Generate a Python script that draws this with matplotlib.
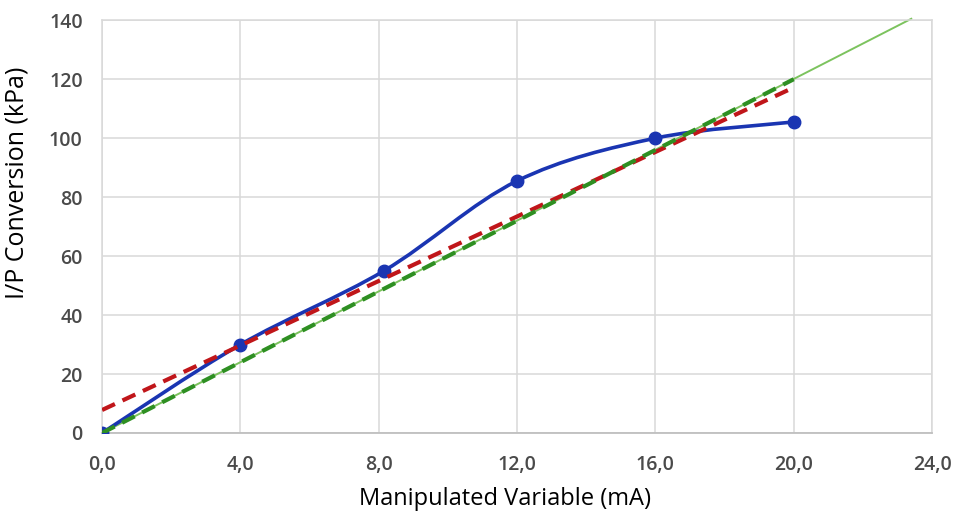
import matplotlib.pyplot as plt
from matplotlib.path import Path
from matplotlib.patches import PathPatch

# Données
mesure_x = [0, 4, 8.15, 12, 16, 20]
mesure_y = [0, 30, 55, 85.5, 100, 105.5]

regression_x = [0, 20]
regression_y = [7.8, 117.2]

ideal_x = [0, 20]
ideal_y = [0, 120]

theorique_x = [0, 23.4]
theorique_y = [0, 140.5]

x_ticks = [0, 4, 8, 12, 16, 20, 24]
x_labels = ["0,0", "4,0", "8,0", "12,0", "16,0", "20,0", "24,0"]
y_ticks = [0, 20, 40, 60, 80, 100, 120, 140]


def courbe_lissee(xs, ys):
    # lissage type Excel (Bezier a partir des points)
    pts = list(zip(xs, ys))
    verts = [pts[0]]
    codes = [Path.MOVETO]
    n = len(pts)
    for i in range(n - 1):
        p0 = pts[i - 1] if i > 0 else pts[i]
        p1 = pts[i]
        p2 = pts[i + 1]
        p3 = pts[i + 2] if i + 2 < n else pts[i + 1]
        c1 = (p1[0] + (p2[0] - p0[0]) / 6, p1[1] + (p2[1] - p0[1]) / 6)
        c2 = (p2[0] - (p3[0] - p1[0]) / 6, p2[1] - (p3[1] - p1[1]) / 6)
        verts += [c1, c2, p2]
        codes += [Path.CURVE4, Path.CURVE4, Path.CURVE4]
    return Path(verts, codes)


plt.rcParams['font.family'] = ['Open Sans', 'DejaVu Sans']

fig = plt.figure(figsize=(9.54, 5.14), dpi=100)
ax = fig.add_axes([0.107, 0.1576, 0.87, 0.803])

ax.plot(theorique_x, theorique_y, color="#7cc35e", lw=1.4, zorder=2, clip_on=False)

bleu = "#1a35b2"
ax.add_patch(PathPatch(courbe_lissee(mesure_x, mesure_y), facecolor="none",
                       edgecolor=bleu, lw=2.6, zorder=3))
ax.plot(mesure_x, mesure_y, "o", color=bleu, ms=9, zorder=3)

ax.plot(regression_x, regression_y, color="#c0161a", lw=3, dashes=(3.4, 2), zorder=4)
ax.plot(ideal_x, ideal_y, color="#2e8f22", lw=3, dashes=(3.4, 2), zorder=5)

ax.set_xlim(0, 24)
ax.set_ylim(0, 140)
ax.set_xticks(x_ticks)
ax.set_xticklabels(x_labels)
ax.set_yticks(y_ticks)

ax.grid(True, color="#d9d9d9", lw=1.1)
ax.set_axisbelow(True)
for s in ["top", "right", "left"]:
    ax.spines[s].set_color("#d9d9d9")
    ax.spines[s].set_linewidth(1.1)
ax.spines["bottom"].set_color("#bfbfbf")
ax.spines["bottom"].set_linewidth(1.3)

ax.tick_params(length=0, labelsize=14, labelcolor="#4a4a4a")
ax.tick_params(axis="x", pad=16)
ax.tick_params(axis="y", pad=14)
for lab in ax.get_xticklabels() + ax.get_yticklabels():
    lab.set_fontweight("semibold")

ax.set_xlabel("Manipulated Variable (mA)", fontsize=17)
ax.set_ylabel("I/P Conversion (kPa)", fontsize=18)
ax.xaxis.set_label_coords(0.4855, -0.13)
ax.yaxis.set_label_coords(-0.087, 0.605)

fig.savefig("out.png", dpi=100)
